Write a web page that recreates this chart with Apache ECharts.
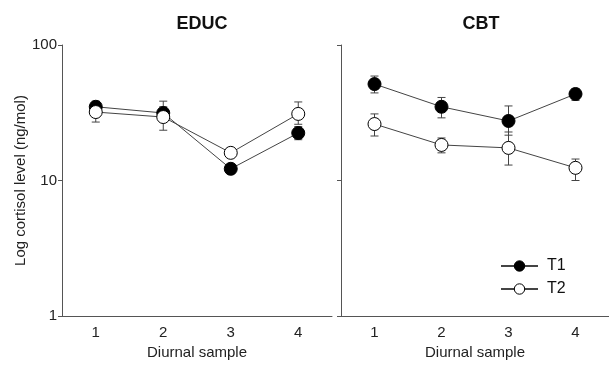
<!DOCTYPE html>
<html>
<head>
<meta charset="utf-8">
<script src="https://cdn.jsdelivr.net/npm/echarts@6/dist/echarts.min.js"></script>
<style>
  html, body { margin: 0; padding: 0; background: #fff; }
  #chart { width: 609px; height: 367px; }
</style>
</head>
<body>
<div id="chart"></div>
<script>
const samples = ["1", "2", "3", "4"];

// EDUC group
const educT1 = [35, 31.5, 12.2, 22.4];
const educT1Low = [32, 28, 11.5, 20];
const educT1High = [38.5, 35, 13, 25];
const educT2 = [32, 29.4, 16, 31];
const educT2Low = [27, 23.5, 15, 26];
const educT2High = [36, 38.5, 17, 38];

// CBT group
const cbtT1 = [51.5, 35, 27.5, 43.5];
const cbtT1Low = [44.3, 29, 21.6, 39];
const cbtT1High = [59, 41, 35.5, 47.5];
const cbtT2 = [26.1, 18.3, 17.4, 12.4];
const cbtT2Low = [21.3, 16, 13, 10];
const cbtT2High = [31, 20.6, 22.8, 14.4];

const font = "Arial, 'Liberation Sans', sans-serif";
const axisColor = "#555";
const lineColor = "#444";

const chart = echarts.init(document.getElementById("chart"));

function errorSeries(axisIdx, low, high) {
    return {
        type: "custom",
        xAxisIndex: axisIdx,
        yAxisIndex: axisIdx,
        z: 1,
        silent: true,
        data: low.map((l, i) => [i, l, high[i]]),
        renderItem: function (params, api) {
            const lo = api.coord([api.value(0), api.value(1)]);
            const hi = api.coord([api.value(0), api.value(2)]);
            const cap = 4;
            const style = { stroke: lineColor, lineWidth: 1 };
            return {
                type: "group",
                children: [
                    { type: "line", shape: { x1: lo[0], y1: lo[1], x2: hi[0], y2: hi[1] }, style },
                    { type: "line", shape: { x1: lo[0] - cap, y1: lo[1], x2: lo[0] + cap, y2: lo[1] }, style },
                    { type: "line", shape: { x1: hi[0] - cap, y1: hi[1], x2: hi[0] + cap, y2: hi[1] }, style },
                ],
            };
        },
    };
}

function lineSeries(name, axisIdx, data, filled) {
    return {
        name: name,
        type: "line",
        xAxisIndex: axisIdx,
        yAxisIndex: axisIdx,
        z: 3,
        data: data,
        symbol: "circle",
        symbolSize: 13,
        lineStyle: { color: lineColor, width: 1 },
        itemStyle: {
            color: filled ? "#000" : "#fff",
            borderColor: "#000",
            borderWidth: 1,
        },
    };
}

function xAxisFor(idx) {
    return {
        type: "category",
        gridIndex: idx,
        data: samples,
        boundaryGap: true,
        name: "Diurnal sample",
        nameLocation: "middle",
        nameGap: 25,
        nameTextStyle: { fontFamily: font, fontSize: 15, color: "#222" },
        axisLine: { lineStyle: { color: axisColor } },
        axisTick: { inside: true, alignWithLabel: true, length: 5, lineStyle: { color: axisColor } },
        axisLabel: { fontFamily: font, fontSize: 15, color: "#222", margin: 9 },
        splitLine: { show: false },
    };
}

function yAxisFor(idx) {
    const ax = {
        type: "log",
        logBase: 10,
        gridIndex: idx,
        min: 1,
        max: 100,
        axisLine: { show: true, lineStyle: { color: axisColor } },
        axisTick: { show: true, length: 4, lineStyle: { color: axisColor } },
        minorTick: { show: false },
        splitLine: { show: false },
        axisLabel: { show: idx === 0, fontFamily: font, fontSize: 15, color: "#222", margin: 5 },
    };
    if (idx === 0) {
        ax.name = "Log cortisol level (ng/mol)";
        ax.nameLocation = "middle";
        ax.nameGap = 34;
        ax.nameTextStyle = { fontFamily: font, fontSize: 15, color: "#222" };
    }
    return ax;
}

const option = {
    backgroundColor: "#fff",
    animation: false,
    title: [
        { text: "EDUC", left: 197, top: 10, textAlign: "center",
          textStyle: { fontFamily: font, fontSize: 18, fontWeight: "bold", color: "#111" } },
        { text: "CBT", left: 476, top: 10, textAlign: "center",
          textStyle: { fontFamily: font, fontSize: 18, fontWeight: "bold", color: "#111" } },
    ],
    grid: [
        { left: 62, top: 45, width: 270, height: 271 },
        { left: 341, top: 45, width: 270, height: 271 },
    ],
    legend: {
        data: ["T1", "T2"],
        orient: "vertical",
        left: 495,
        top: 253,
        itemWidth: 37,
        itemHeight: 13,
        itemGap: 7,
        itemStyle: { borderWidth: 1 },
        textStyle: { fontFamily: font, fontSize: 16, color: "#111", padding: [0, 0, 0, 4] },
    },
    xAxis: [xAxisFor(0), xAxisFor(1)],
    yAxis: [yAxisFor(0), yAxisFor(1)],
    series: [
        errorSeries(0, educT1Low, educT1High),
        errorSeries(0, educT2Low, educT2High),
        errorSeries(1, cbtT1Low, cbtT1High),
        errorSeries(1, cbtT2Low, cbtT2High),
        lineSeries("T1", 0, educT1, true),
        lineSeries("T2", 0, educT2, false),
        lineSeries("T1", 1, cbtT1, true),
        lineSeries("T2", 1, cbtT2, false),
    ],
};

chart.setOption(option);
</script>
</body>
</html>
